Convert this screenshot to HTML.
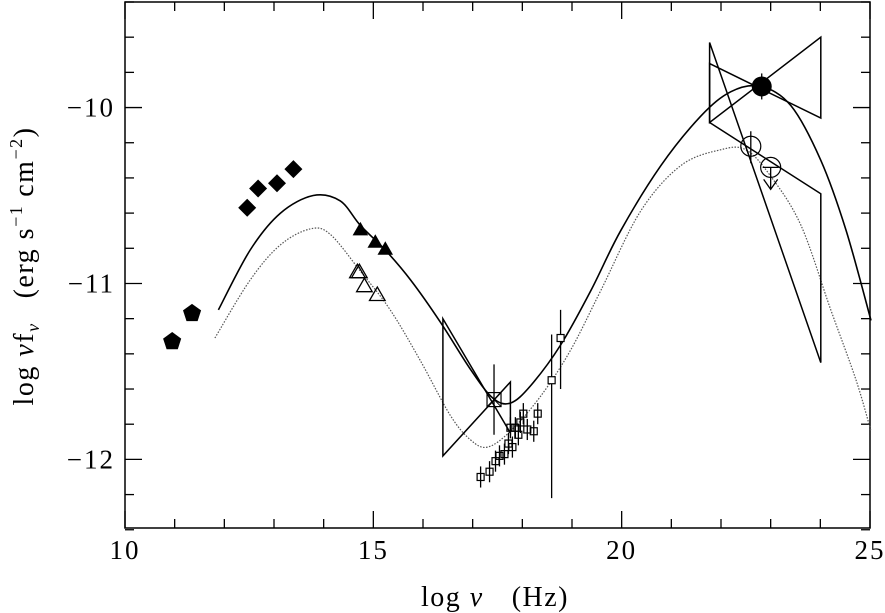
<!DOCTYPE html>
<html><head><meta charset="utf-8"><style>
html,body{margin:0;padding:0;background:#fff;}
svg{display:block;font-family:"Liberation Serif",serif;}
</style></head><body>
<svg id="chart" width="885" height="613" viewBox="0 0 885 613" xmlns="http://www.w3.org/2000/svg">
<g id="plot"></g>
<text x="495" y="606" font-size="28" letter-spacing="1.5" text-anchor="middle">log <tspan font-style="italic">ν</tspan><tspan dx="28">(Hz)</tspan></text>
<text transform="translate(33,266) rotate(-90)" font-size="28" letter-spacing="1.5" text-anchor="middle">log <tspan font-style="italic">ν</tspan>f<tspan font-size="18" dy="6" font-style="italic">ν</tspan><tspan dy="-6" dx="24">(erg s</tspan><tspan font-size="18" dy="-11">−1</tspan><tspan dy="11" dx="8">cm</tspan><tspan font-size="18" dy="-11">−2</tspan><tspan dy="11">)</tspan></text>
</svg>
<script>
const xTicks=[10,15,20,25];
const yTicks=[-10,-11,-12];
const pentX=[10.95,11.35], pentY=[-11.33,-11.17];
const diaX=[12.46,12.68,13.06,13.39], diaY=[-10.57,-10.46,-10.43,-10.35];
const triFX=[14.74,15.04,15.24], triFY=[-10.69,-10.76,-10.80];
const triOX=[14.68,14.72,14.82,15.08], triOY=[-10.93,-10.93,-11.01,-11.06];
const sqX=[17.16,17.34,17.46,17.54,17.64,17.72,17.80,17.76,17.86,17.96,18.02,18.10,17.92,18.23,18.31,17.43];
const sqY=[-12.10,-12.07,-12.01,-11.98,-11.97,-11.91,-11.93,-11.82,-11.82,-11.79,-11.74,-11.83,-11.86,-11.84,-11.74,-11.66];
const bigSqX=[18.59,18.77], bigSqY=[-11.55,-11.31], bigSqLo=[-12.22,-11.60], bigSqHi=[-11.29,-11.15];
const solidX=[11.88,12.52,13.13,13.79,14.33,14.74,15.24,15.75,16.35,16.96,17.40,17.76,18.17,18.77,19.38,19.98,20.79,21.59,22.20,22.80,23.41,24.01,24.52,25.02];
const solidY=[-11.15,-10.81,-10.60,-10.50,-10.53,-10.67,-10.81,-10.98,-11.22,-11.49,-11.65,-11.68,-11.58,-11.35,-11.04,-10.70,-10.33,-10.05,-9.91,-9.88,-9.99,-10.30,-10.70,-11.21];
const dotX=[11.81,12.52,13.13,13.73,14.13,14.74,15.34,15.95,16.55,16.96,17.30,17.76,18.37,18.97,19.58,20.38,21.19,21.99,22.50,23.00,23.61,24.21,24.72,25.02];
const dotY=[-11.31,-10.98,-10.78,-10.69,-10.72,-10.93,-11.15,-11.44,-11.75,-11.89,-11.93,-11.84,-11.64,-11.38,-11.04,-10.59,-10.33,-10.24,-10.24,-10.39,-10.67,-11.15,-11.55,-11.84];
// bowties: [x1,x2, yLeftTop,yLeftBot, yRightTop,yRightBot]
const xrayBow=[16.40,17.76,-11.20,-11.98,-11.56,-11.85];
const gamBow1=[21.77,24.01,-9.75,-10.085,-9.60,-10.06];
const gamBow2=[21.77,24.01,-9.63,-10.085,-10.49,-11.45];
const gamPtX=[22.82], gamPtY=[-9.88];
const openCX=[22.60,23.00], openCY=[-10.22,-10.34];

const X0=125,X1=870,Y0=2,Y1=528;
const xmin=10,xmax=25,ymin=-12.39,ymax=-9.40;
const sx=v=>X0+(v-xmin)/(xmax-xmin)*(X1-X0);
const sy=v=>Y1-(v-ymin)/(ymax-ymin)*(Y1-Y0);
const NS="http://www.w3.org/2000/svg";
const g=document.getElementById('plot');
function mk(t,a){const e=document.createElementNS(NS,t);for(const k in a)e.setAttribute(k,a[k]);g.appendChild(e);return e;}
let e;
e=mk('rect',{x:X0,y:Y0,width:X1-X0,height:Y1-Y0,fill:'none',stroke:'#000','stroke-width':1.5});


for(let v=10;v<=25;v++){const major=v%5===0;const L=major?17:9;
 e=mk('line',{x1:sx(v),x2:sx(v),y1:Y1,y2:Y1-L,stroke:'#000','stroke-width':1.3});
 
 
 e=mk('line',{x1:sx(v),x2:sx(v),y1:Y0,y2:Y0+L,stroke:'#000','stroke-width':1.3});
 
 }
for(const v of xTicks){e=mk('text',{x:sx(v),y:559,'font-size':27,'letter-spacing':2,'text-anchor':'middle'});e.textContent=String(v);
 
 }
for(let i=-62;i<=-47;i++){const v=i/5;const major=i%5===0;const L=major?17:9;
 e=mk('line',{x1:X0,x2:X0+L,y1:sy(v),y2:sy(v),stroke:'#000','stroke-width':1.3});
 
 
 e=mk('line',{x1:X1,x2:X1-L,y1:sy(v),y2:sy(v),stroke:'#000','stroke-width':1.3});
 
 }
for(const v of yTicks){e=mk('text',{x:115,y:sy(v)+9,'font-size':27,'letter-spacing':2,'text-anchor':'end'});e.textContent='−'+Math.abs(v);
 
 }
// smooth curves (Catmull-Rom)
function smooth(xs,ys){const P=xs.map((x,i)=>[sx(x),sy(ys[i])]);let d='M'+P[0][0].toFixed(1)+','+P[0][1].toFixed(1);
 for(let i=0;i<P.length-1;i++){const p0=P[i-1]||P[i],p1=P[i],p2=P[i+1],p3=P[i+2]||P[i+1];
  const c1=[p1[0]+(p2[0]-p0[0])/6,p1[1]+(p2[1]-p0[1])/6],c2=[p2[0]-(p3[0]-p1[0])/6,p2[1]-(p3[1]-p1[1])/6];
  d+=` C${c1[0].toFixed(1)},${c1[1].toFixed(1)} ${c2[0].toFixed(1)},${c2[1].toFixed(1)} ${p2[0].toFixed(1)},${p2[1].toFixed(1)}`;}
 return d;}
e=mk('path',{d:smooth(solidX,solidY),fill:'none',stroke:'#000','stroke-width':1.6});


e=mk('path',{d:smooth(dotX,dotY),fill:'none',stroke:'#555','stroke-width':1.2,'stroke-dasharray':'1.5,1.5'});


function bow(b,name){const [x1,x2,a,bb,c,d]=b;
 const p=[[x1,a],[x2,d],[x2,c],[x1,bb]].map(q=>sx(q[0]).toFixed(1)+','+sy(q[1]).toFixed(1)).join(' ');
 e=mk('polygon',{points:p,fill:'none',stroke:'#000','stroke-width':1.5});
 
 }
bow(xrayBow,'xray-bowtie');bow(gamBow1,'gamma-bowtie-high');bow(gamBow2,'gamma-bowtie-low');
function poly(cx,cy,r,n,rot){let s=[];for(let k=0;k<n;k++){const a=rot+k*2*Math.PI/n;s.push((cx+r*Math.cos(a)).toFixed(1)+','+(cy+r*Math.sin(a)).toFixed(1));}return s.join(' ');}
pentX.forEach((x,i)=>{e=mk('polygon',{points:poly(sx(x),sy(pentY[i]),9.5,5,-Math.PI/2),fill:'#000'});
 
 });
diaX.forEach((x,i)=>{e=mk('polygon',{points:poly(sx(x),sy(diaY[i]),9,4,0),fill:'#000'});
 
 });
triFX.forEach((x,i)=>{e=mk('polygon',{points:poly(sx(x),sy(triFY[i])+2,9,3,-Math.PI/2),fill:'#000'});
 
 });
triOX.forEach((x,i)=>{e=mk('polygon',{points:poly(sx(x),sy(triOY[i])+2,9,3,-Math.PI/2),fill:'none',stroke:'#000','stroke-width':1.3});
 
 });
sqX.forEach((x,i)=>{const cx=sx(x),cy=sy(sqY[i]);const big=i===sqX.length-1;const h=big?7:3.5;const eb=big?0.2:0.06;
 e=mk('line',{x1:cx,x2:cx,y1:sy(sqY[i]-eb),y2:sy(sqY[i]+eb),stroke:'#000','stroke-width':1.3});
 
 
 e=mk('rect',{x:cx-h,y:cy-h,width:2*h,height:2*h,fill:'none',stroke:'#000','stroke-width':1.2});
 
 
 if(big){e=mk('line',{x1:cx-h,y1:cy-h,x2:cx+h,y2:cy+h,stroke:'#000','stroke-width':1});
 e=mk('line',{x1:cx+h,y1:cy-h,x2:cx-h,y2:cy+h,stroke:'#000','stroke-width':1});}});
bigSqX.forEach((x,i)=>{const cx=sx(x),cy=sy(bigSqY[i]);
 e=mk('line',{x1:cx,x2:cx,y1:sy(bigSqLo[i]),y2:sy(bigSqHi[i]),stroke:'#000','stroke-width':1.3});
 
 
 e=mk('rect',{x:cx-3.5,y:cy-3.5,width:7,height:7,fill:'#fff',stroke:'#000','stroke-width':1.2});
 
 });
gamPtX.forEach((x,i)=>{const cx=sx(x),cy=sy(gamPtY[i]);
 e=mk('line',{x1:cx,x2:cx,y1:cy-13,y2:cy+13,stroke:'#000','stroke-width':1.3});
 
 
 e=mk('circle',{cx:cx,cy:cy,r:10,fill:'#000'});
 
 });
openCX.forEach((x,i)=>{const cx=sx(x),cy=sy(openCY[i]);
 if(i===0){e=mk('line',{x1:cx,x2:cx,y1:cy-15,y2:cy+17,stroke:'#000','stroke-width':1.3});}
 else{e=mk('path',{d:`M${cx-8},${cy} H${cx+8} M${cx},${cy} V${cy+22} M${cx-7},${cy+12} L${cx},${cy+22} L${cx+7},${cy+12}`,fill:'none',stroke:'#000','stroke-width':1.3});}
 
 
 e=mk('circle',{cx:cx,cy:cy,r:10,fill:'none',stroke:'#000','stroke-width':1.2});
 
 });
</script>
</body></html>
